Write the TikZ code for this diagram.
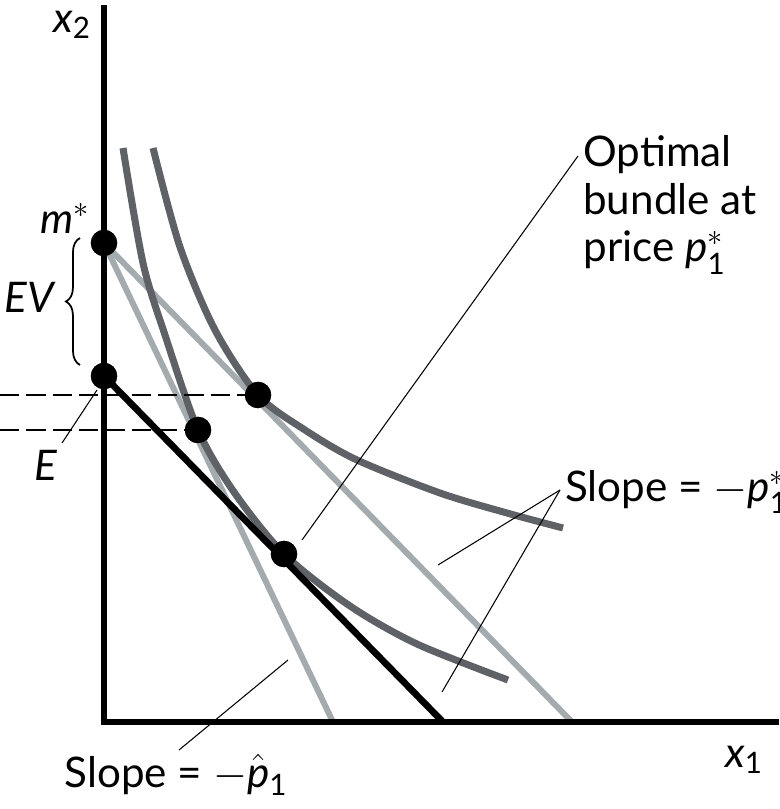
\documentclass[tikz,border=0pt]{standalone}
\usepackage{amsmath}
\usepackage{fontspec}
\setmainfont{Lato}
\usepackage{xcolor}
\usepackage{tikz}
\usetikzlibrary{decorations.pathreplacing}
\definecolor{curvegray}{HTML}{5E6266}
\definecolor{paleline}{HTML}{A4ABAE}
\definecolor{evblue}{HTML}{1E9CC8}

\begin{document}
\begin{tikzpicture}[
  x=0.02cm, y=-0.02cm,
  every node/.style={font=\fontsize{24}{27}\selectfont, inner sep=0pt},
  axis/.style={line width=3.4pt},
  icurve/.style={line width=4pt, draw=curvegray},
  pline/.style={line width=3.4pt, draw=paleline},
  budget/.style={line width=3.8pt},
  dot/.style={circle, fill=black, minimum size=15pt, inner sep=0pt},
  guide/.style={dash pattern=on 11pt off 4pt, line width=0.8pt},
  leader/.style={line width=0.6pt}
]
  \clip (0,0) rectangle (779,809);
  % Points
  \coordinate (O) at (104,722);
  \coordinate (ytop) at (104,5);
  \coordinate (xend) at (779,722);
  \coordinate (hatend) at (333,722);
  \coordinate (starend) at (572,722);
  \coordinate (budend) at (443,722);
  \coordinate (edge1) at (0,395);
  \coordinate (edge2) at (0,430);
  \node[dot] (mstar) at (104,243) {};
  \node[dot] (epoint) at (104,376) {};
  \node[dot] (upper) at (258,395) {};
  \node[dot] (middle) at (198,430) {};
  \node[dot] (optimal) at (284,554) {};
  % Price lines
  \draw[pline] (mstar.center) -- (hatend);
  \draw[pline] (mstar.center) -- (starend);
  % Indifference curves
  \draw[icurve] plot[smooth] coordinates {(123,148) (143,263) (165,335) (198,430) (234,492) (284,554) (350,606) (417,644) (508,680)};
  \draw[icurve] plot[smooth] coordinates {(153,148) (180,247) (215,330) (258,395) (305,430) (357,460) (440,493) (507,513) (563,528)};
  % Budget line and EV
  \draw[budget] (epoint.center) -- (budend);
  \draw[evblue, line width=3.4pt] (mstar.center) -- (epoint.center);
  \draw[guide] (edge1) -- (upper.center);
  \draw[guide] (edge2) -- (middle.center);
  \draw[line width=1pt, decorate, decoration={brace, amplitude=8pt}] (80,365) -- (80,238);
  % Axes
  \draw[axis] (ytop) -- (O) -- (xend);
  \node[dot] at (mstar) {};
  \node[dot] at (epoint) {};
  \node[dot] at (upper) {};
  \node[dot] at (middle) {};
  \node[dot] at (optimal) {};
  % Labels
  \node (x2lbl) at (72,25) {$\textit{x}_{\text{2}}$};
  \node (x1lbl) at (744,760) {$\textit{x}_{\text{1}}$};
  \node (mlbl) at (65,218) {$\textit{m}^{*}$};
  \node (evlbl) at (30,297) {\textit{EV}};
  \node (elbl) at (46,465) {\textit{E}};
  \node[align=left, anchor=west] (optlbl) at (583,205) {Optimal\\bundle at\\price $\textit{p}_{\text{1}}^{*}$};
  \node[anchor=west] (starlbl) at (565,492) {Slope = $-\textit{p}_{\text{1}}^{*}$};
  \node (hatlbl) at (176,775) {Slope = $-\hat{\textit{p}}_{\text{1}}$};
  % Leaders
  \coordinate (opttip) at (578,156);
  \coordinate (optfoot) at (302,540);
  \coordinate (starjoin) at (560,490);
  \coordinate (starfoot1) at (438,565);
  \coordinate (starfoot2) at (442,692);
  \coordinate (hattip) at (179,750);
  \coordinate (hatfoot) at (288,660);
  \coordinate (etip) at (62,443);
  \coordinate (efoot) at (97,390);
  \draw[leader] (opttip) -- (optfoot);
  \draw[leader] (starjoin) -- (starfoot1);
  \draw[leader] (starjoin) -- (starfoot2);
  \draw[leader] (hattip) -- (hatfoot);
  \draw[leader] (etip) -- (efoot);
\end{tikzpicture}
\end{document}
